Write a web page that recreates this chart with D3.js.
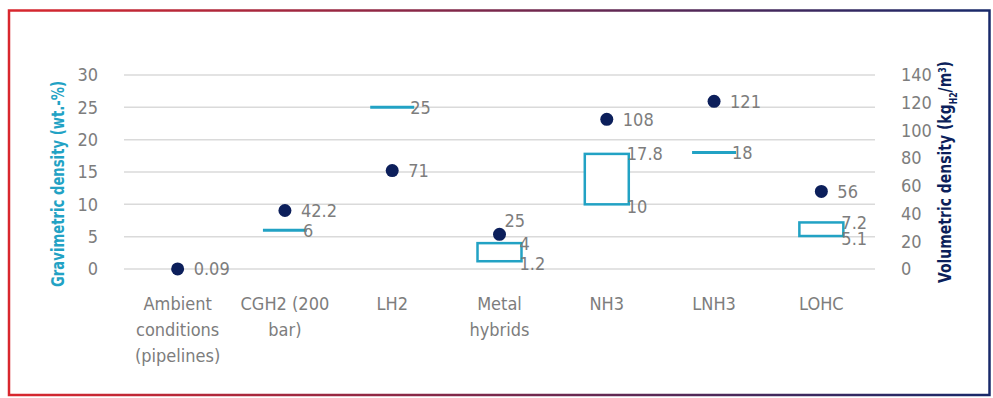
<!DOCTYPE html>
<html>
<head>
<meta charset="utf-8">
<script src="https://cdn.jsdelivr.net/npm/d3@7"></script>
<style>
  html, body { margin: 0; padding: 0; background: #ffffff; }
  svg { display: block; }
  text { font-family: "Liberation Sans Narrow", "DejaVu Sans Condensed", "Roboto Condensed", sans-serif; }
</style>
</head>
<body>
<svg id="chart" width="993" height="398"></svg>
<script>
// ---- Data ----
const categories = ["Ambient conditions (pipelines)", "CGH2 (200 bar)", "LH2", "Metal hybrids", "NH3", "LNH3", "LOHC"];
const categoryLines = [["Ambient", "conditions", "(pipelines)"], ["CGH2 (200", "bar)"], ["LH2"], ["Metal", "hybrids"], ["NH3"], ["LNH3"], ["LOHC"]];
const gravimetricLow  = [null, 6, 25, 1.2, 10, 18, 5.1];
const gravimetricHigh = [null, 6, 25, 4, 17.8, 18, 7.2];
const volumetric      = [0.09, 42.2, 71, 25, 108, 121, 56];
const leftTicks  = [0, 5, 10, 15, 20, 25, 30];
const rightTicks = [0, 20, 40, 60, 80, 100, 120, 140];
const volLabelAbove = ["Metal hybrids"];

// ---- Layout / style ----
const plotLeft = 124, plotRight = 875, plotTop = 75, plotBottom = 269;
const teal = "#22a2c4", navy = "#0c1f5b", grey = "#7d7d7d", gridCol = "#dadada";
const fs = "18px";

const svg = d3.select("#chart");

// frame gradient
const defs = svg.append("defs");
const grad = defs.append("linearGradient").attr("id", "frameGrad")
  .attr("gradientUnits", "userSpaceOnUse").attr("x1", 8).attr("x2", 990).attr("y1", 0).attr("y2", 0);
grad.append("stop").attr("offset", "0%").attr("stop-color", "#d9272e");
grad.append("stop").attr("offset", "100%").attr("stop-color", "#18296a");

svg.append("rect").attr("x", 9).attr("y", 10.5).attr("width", 980.5).attr("height", 384.5)
  .attr("fill", "none").attr("stroke", "url(#frameGrad)").attr("stroke-width", 2.5);

const x = d3.scaleBand().domain(categories).range([plotLeft, plotRight]).padding(0);
const yL = d3.scaleLinear().domain([0, 30]).range([plotBottom, plotTop]);
const yR = d3.scaleLinear().domain([0, 140]).range([plotBottom, plotTop]);

// grid
svg.append("g").selectAll("line").data(leftTicks).join("line")
  .attr("x1", plotLeft).attr("x2", plotRight)
  .attr("y1", d => yL(d)).attr("y2", d => yL(d))
  .attr("stroke", gridCol).attr("stroke-width", 1.5);

// left axis
const axL = svg.append("g").attr("transform", `translate(${plotLeft - 26},0)`)
  .call(d3.axisLeft(yL).tickValues(leftTicks).tickSize(0).tickPadding(0));
axL.select(".domain").remove();
axL.selectAll("text").attr("fill", grey).style("font-size", fs)
  .style("font-family", '"Liberation Sans Narrow", "DejaVu Sans Condensed", sans-serif');

// right axis
const axR = svg.append("g").attr("transform", `translate(${plotRight + 26},0)`)
  .call(d3.axisRight(yR).tickValues(rightTicks).tickSize(0).tickPadding(0));
axR.select(".domain").remove();
axR.selectAll("text").attr("fill", grey).style("font-size", fs)
  .style("font-family", '"Liberation Sans Narrow", "DejaVu Sans Condensed", sans-serif');

// axis titles
svg.append("text")
  .attr("transform", `translate(${64},${184}) rotate(-90)`)
  .attr("text-anchor", "middle").attr("fill", teal)
  .attr("textLength", 206).attr("lengthAdjust", "spacingAndGlyphs")
  .style("font-size", "18px").style("font-weight", "bold")
  .text("Gravimetric density (wt.-%)");

const rt = svg.append("text")
  .attr("transform", `translate(${951},${172}) rotate(-90)`)
  .attr("text-anchor", "middle").attr("fill", navy)
  .attr("textLength", 222).attr("lengthAdjust", "spacingAndGlyphs")
  .style("font-size", "18px").style("font-weight", "bold");
rt.append("tspan").text("Volumetric density (kg");
rt.append("tspan").attr("baseline-shift", "sub").style("font-size", "10px").text("H2");
rt.append("tspan").text("/m");
rt.append("tspan").attr("baseline-shift", "super").style("font-size", "10px").text("3");
rt.append("tspan").text(")");

// category labels
const catG = svg.append("g");
categories.forEach((c, i) => {
  const cx = x(c) + x.bandwidth() / 2;
  const t = catG.append("text")
    .attr("x", cx).attr("y", 310)
    .attr("text-anchor", "middle").attr("fill", grey).style("font-size", fs);
  categoryLines[i].forEach((ln, j) => {
    t.append("tspan").attr("x", cx).attr("y", 310 + j * 26).text(ln);
  });
});

// gravimetric ranges
const half = x.bandwidth() * 0.205;
const gData = categories.map((c, i) => ({ c, lo: gravimetricLow[i], hi: gravimetricHigh[i] })).filter(d => d.lo !== null);
const gG = svg.append("g");
gData.forEach(d => {
  const cx = x(d.c) + x.bandwidth() / 2;
  if (d.lo === d.hi) {
    gG.append("line").attr("x1", cx - half).attr("x2", cx + half)
      .attr("y1", yL(d.lo)).attr("y2", yL(d.lo))
      .attr("stroke", teal).attr("stroke-width", 3);
    gG.append("text").attr("x", cx + 18).attr("y", yL(d.lo)).attr("dy", "0.38em")
      .attr("fill", grey).style("font-size", fs).text(d.lo);
  } else {
    gG.append("rect").attr("x", cx - half).attr("width", 2 * half)
      .attr("y", yL(d.hi)).attr("height", yL(d.lo) - yL(d.hi))
      .attr("fill", "#ffffff").attr("stroke", teal).attr("stroke-width", 2.5);
    gG.append("text").attr("x", cx + 20).attr("y", yL(d.hi)).attr("dy", "0.36em")
      .attr("fill", grey).style("font-size", fs).text(d.hi);
    gG.append("text").attr("x", cx + 20).attr("y", yL(d.lo)).attr("dy", "0.5em")
      .attr("fill", grey).style("font-size", fs).text(d.lo);
  }
});

// volumetric dots
const vG = svg.append("g");
categories.forEach((c, i) => {
  const cx = x(c) + x.bandwidth() / 2;
  const cy = yR(volumetric[i]);
  vG.append("circle").attr("cx", cx).attr("cy", cy).attr("r", 6.5).attr("fill", navy);
  const above = volLabelAbove.includes(c);
  vG.append("text")
    .attr("x", above ? cx + 5 : cx + 16)
    .attr("y", above ? cy - 14 : cy).attr("dy", "0.36em")
    .attr("fill", grey).style("font-size", fs).text(volumetric[i]);
});
</script>
</body>
</html>
